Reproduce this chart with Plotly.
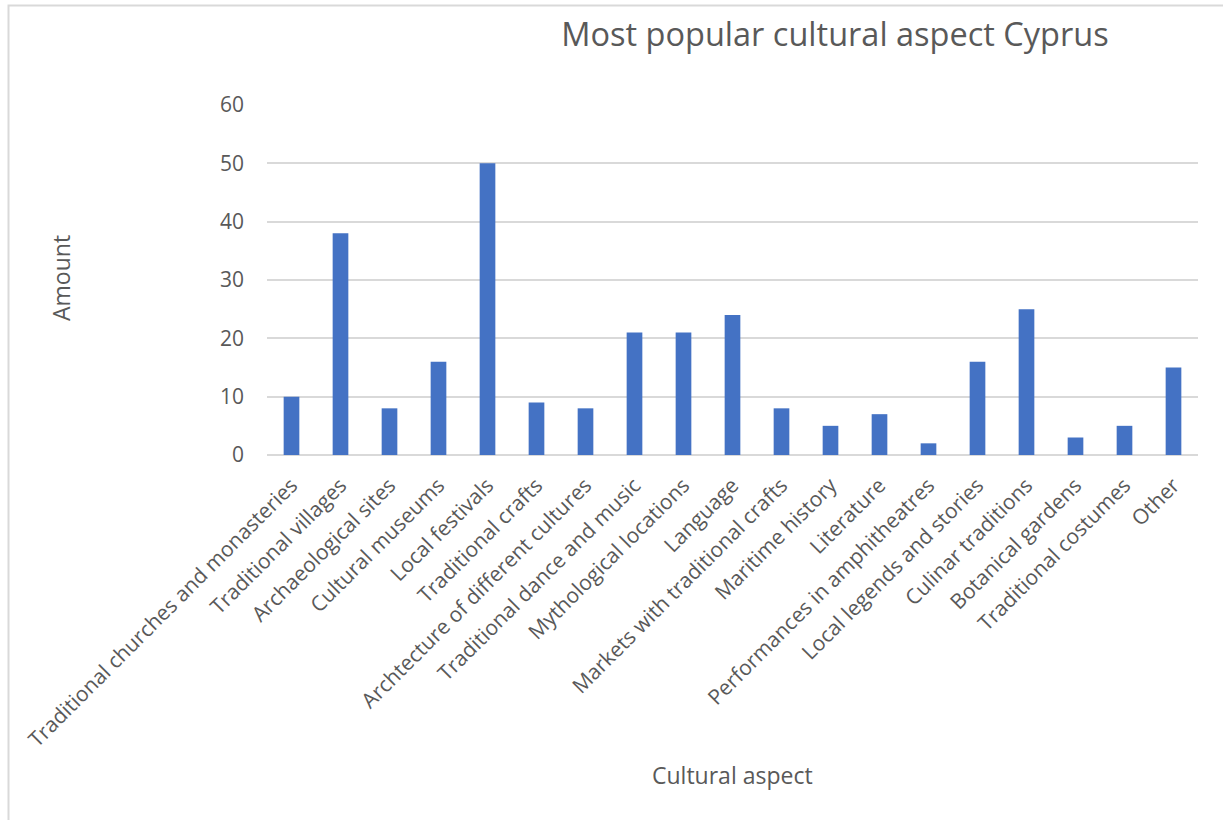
import plotly.graph_objects as go

categories = [
    "Traditional churches and monasteries", "Traditional villages", "Archaeological sites",
    "Cultural museums", "Local festivals", "Traditional crafts",
    "Archtecture of different cultures", "Traditional dance and music",
    "Mythological locations", "Language", "Markets with traditional crafts",
    "Maritime history", "Literature", "Performances in amphitheatres",
    "Local legends and stories", "Culinar traditions", "Botanical gardens",
    "Traditional costumes", "Other",
]
amounts = [10, 38, 8, 16, 50, 9, 8, 21, 21, 24, 8, 5, 7, 2, 16, 25, 3, 5, 15]
y_ticks = [0, 10, 20, 30, 40, 50, 60]

title_text = "Most popular cultural aspect Cyprus"
x_title = "Cultural aspect"
y_title = "Amount"

W, H = 1223, 820
L, R, T, B = 267, 1198, 105, 455
pw, ph = R - L, B - T

def px(x):
    return (x - L) / pw

def py(y):
    return (B - y) / ph

FONT = "Open Sans"
TXT = "#595959"
GRID = "#d9d9d9"

fig = go.Figure(go.Bar(x=categories, y=amounts, marker=dict(color="#4472C4", line=dict(width=0))))

fig.update_layout(
    width=W, height=H,
    margin=dict(l=L, r=W - R, t=T, b=H - B, autoexpand=False),
    paper_bgcolor="white", plot_bgcolor="white",
    bargap=0.68,
    showlegend=False,
    font=dict(family=FONT, color=TXT, size=21),
    title=dict(text=title_text, font=dict(family=FONT, size=32.5, color=TXT),
               xref="paper", x=px(835), xanchor="center",
               yref="container", y=1 - 35 / H, yanchor="middle"),
    xaxis=dict(tickangle=-45, showgrid=False, zeroline=False, showline=False,
               ticks="", ticklabelstandoff=13, tickfont=dict(size=21, color=TXT),
               automargin=False),
    yaxis=dict(range=[0, 60], tickvals=y_ticks, showgrid=True, gridcolor=GRID, gridwidth=1.5,
               zeroline=True, zerolinecolor=GRID, zerolinewidth=1.5, showline=False,
               ticks="", ticklabelstandoff=22, tickfont=dict(size=21, color=TXT),
               automargin=False),
    annotations=[
        dict(text=x_title, xref="paper", yref="paper", x=px(732), y=py(775),
             xanchor="center", yanchor="middle", showarrow=False,
             font=dict(size=23, color=TXT, family=FONT)),
        dict(text=y_title, xref="paper", yref="paper", x=px(61), y=py(278),
             xanchor="center", yanchor="middle", showarrow=False, textangle=-90,
             font=dict(size=23, color=TXT, family=FONT)),
    ],
    shapes=[
        dict(type="path", xref="paper", yref="paper",
             path=f"M {px(8.5)} {py(830)} L {px(8.5)} {py(5.5)} L {px(1240)} {py(5.5)}",
             line=dict(color=GRID, width=2)),
    ],
)

fig.write_html("out.html")
